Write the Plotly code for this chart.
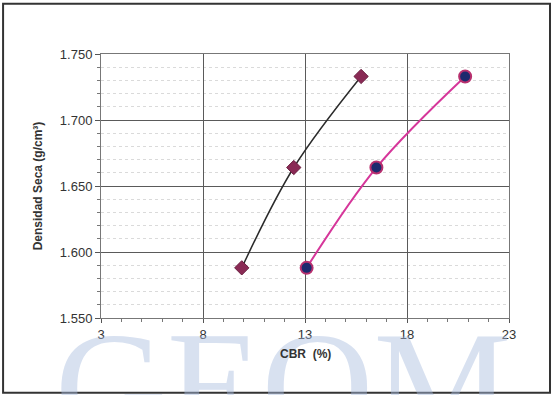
import plotly.graph_objects as go

cbr_a = [9.9, 12.45, 15.75]
dens_a = [1.588, 1.664, 1.733]
cbr_b = [13.08, 16.5, 20.85]
dens_b = [1.588, 1.664, 1.733]
x_ticks = [3, 8, 13, 18, 23]
y_ticks = [1.55, 1.60, 1.65, 1.70, 1.75]
y_tick_text = ["1.550", "1.600", "1.650", "1.700", "1.750"]

fig = go.Figure()
fig.add_trace(go.Scatter(x=cbr_a, y=dens_a, mode="lines+markers",
                         line=dict(color="#2b2b2b", width=1.5, shape="spline"),
                         marker=dict(symbol="diamond", size=11, color="#8a2a55",
                                     line=dict(color="#6b1f40", width=1))))
fig.add_trace(go.Scatter(x=cbr_b, y=dens_b, mode="lines+markers",
                         line=dict(color="#d6369a", width=2, shape="spline"),
                         marker=dict(symbol="circle", size=12, color="#1d2a6e",
                                     line=dict(color="#b8306e", width=2))))

font = dict(family="Liberation Sans, Arial, sans-serif", color="#333333")
fig.update_layout(
    width=553, height=395,
    margin=dict(l=101, r=44, t=54, b=77),
    paper_bgcolor="white", plot_bgcolor="white",
    showlegend=False,
    font=font,
    xaxis=dict(range=[3, 23], tickvals=x_ticks, ticks="outside", ticklen=4,
               tickcolor="#555", tickfont=dict(size=13, color="#333"),
               showgrid=True, gridcolor="#5a5a5a", gridwidth=1,
               showline=True, linecolor="#777", linewidth=1, mirror=True,
               zeroline=False,
               minor=dict(dtick=1, ticks="outside", ticklen=3, tickcolor="#777",
                          showgrid=False)),
    yaxis=dict(range=[1.55, 1.75], tickvals=y_ticks, ticktext=y_tick_text,
               ticks="outside", ticklen=5, tickcolor="#555",
               tickfont=dict(size=13, color="#333"),
               showgrid=True, gridcolor="#5a5a5a", gridwidth=1,
               showline=True, linecolor="#777", linewidth=1, mirror=True,
               zeroline=False,
               title=dict(text="<b>Densidad Seca (g/cm³)</b>", font=dict(size=12, color="#333"), standoff=14),
               minor=dict(dtick=0.01, ticks="outside", ticklen=3, tickcolor="#777",
                          showgrid=True, gridcolor="#dadada", griddash="dot", gridwidth=1)),
)

# watermark (light blue, clipped at bottom of the page)
fig.add_annotation(xref="paper", yref="paper", x=0.446, y=0.075, xanchor="center", yanchor="top",
                   text="GEOM", showarrow=False, opacity=0.45,
                   font=dict(family="Liberation Serif, serif", size=155, color="#a9bde0"))
# x axis title drawn above watermark
fig.add_annotation(xref="paper", yref="paper", x=0.5, y=-0.135, xanchor="center", yanchor="middle",
                   text="<b>CBR  (%)</b>", showarrow=False, font=dict(size=12, color="#333"))
# outer frame
fig.add_shape(type="rect", xref="paper", yref="paper", x0=-0.240, x1=1.1005, y0=-0.283, y1=1.19,
              line=dict(color="#333", width=2), layer="above")

fig.write_html("out.html", config={"displayModeBar": False},
               post_script="document.body.style.margin='0';")
